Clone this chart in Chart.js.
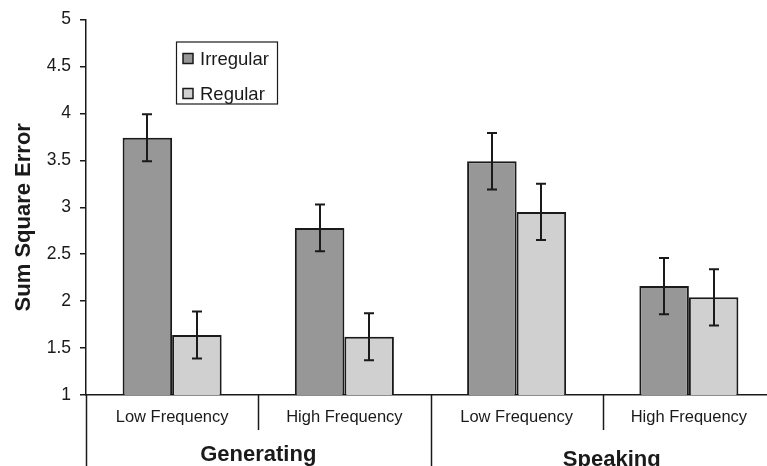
<!DOCTYPE html>
<html>
<head>
<meta charset="utf-8">
<script src="https://cdn.jsdelivr.net/npm/chart.js@4"></script>
<style>
  html, body { margin: 0; padding: 0; background: #fff; overflow: hidden; }
  #wrap { width: 790px; height: 466px; }
</style>
</head>
<body>
<div id="wrap"><canvas id="graphCanvas" width="790" height="466"></canvas></div>
<script>
var categories = ['Low Frequency', 'High Frequency', 'Low Frequency', 'High Frequency'];
var groups = ['Generating', 'Speaking'];
var seriesNames = ['Irregular', 'Regular'];
var irregular = [3.74, 2.78, 3.49, 2.16];
var regular = [1.64, 1.62, 2.95, 2.04];
var irregularErr = [0.25, 0.25, 0.30, 0.30];
var regularErr = [0.25, 0.25, 0.30, 0.30];
var yTicks = ['1', '1.5', '2', '2.5', '3', '3.5', '4', '4.5', '5'];
var yTitle = 'Sum Square Error';

var ink = '#1a1a1a';
var font = 'Liberation Sans, Arial, sans-serif';

// error bars on top of each bar
var errorBars = {
    id: 'errorBars',
    afterDatasetsDraw: function (chart) {
        var ctx = chart.ctx;
        var y = chart.scales.y;
        ctx.save();
        ctx.strokeStyle = ink;
        ctx.lineWidth = 2;
        chart.data.datasets.forEach(function (ds, di) {
            var meta = chart.getDatasetMeta(di);
            meta.data.forEach(function (bar, i) {
                var hi = y.getPixelForValue(ds.data[i] + ds.err[i]);
                var lo = y.getPixelForValue(ds.data[i] - ds.err[i]);
                var x = Math.round(bar.x);
                ctx.beginPath();
                ctx.moveTo(x, hi); ctx.lineTo(x, lo);
                ctx.moveTo(x - 5, hi); ctx.lineTo(x + 5, hi);
                ctx.moveTo(x - 5, lo); ctx.lineTo(x + 5, lo);
                ctx.stroke();
            });
        });
        ctx.restore();
    }
};

// category dividers, group labels, axis title and the boxed legend
var decorations = {
    id: 'decorations',
    afterDraw: function (chart) {
        var ctx = chart.ctx;
        var x = chart.scales.x;
        var area = chart.chartArea;
        var half = (x.getPixelForValue(1) - x.getPixelForValue(0)) / 2;
        ctx.save();
        ctx.strokeStyle = ink;
        ctx.lineWidth = 1.5;
        for (var i = 0; i <= categories.length; i++) {
            var px = Math.round(x.getPixelForValue(i) - half) + 0.5;
            var long = (i % 2 === 0);
            ctx.beginPath();
            ctx.moveTo(px, area.bottom);
            ctx.lineTo(px, long ? chart.height : area.bottom + 35);
            ctx.stroke();
        }
        ctx.fillStyle = ink;
        ctx.font = 'bold 22px ' + font;
        ctx.textAlign = 'center';
        ctx.textBaseline = 'alphabetic';
        groups.forEach(function (g, gi) {
            var cx = (x.getPixelForValue(gi * 2) + x.getPixelForValue(gi * 2 + 1)) / 2;
            ctx.fillText(g, cx + gi * 9, area.bottom + 66 + gi * 5);
        });

        // y axis title
        ctx.save();
        ctx.translate(30, (area.top + area.bottom) / 2 + 10);
        ctx.rotate(-Math.PI / 2);
        ctx.font = 'bold 22px ' + font;
        ctx.textAlign = 'center';
        ctx.fillText(yTitle, 0, 0);
        ctx.restore();

        // legend
        var lx = area.left + 90, ly = area.top + 22;
        ctx.fillStyle = '#fff';
        ctx.fillRect(lx, ly, 101, 62);
        ctx.lineWidth = 1.2;
        ctx.strokeRect(lx + 0.5, ly + 0.5, 101, 62);
        ctx.font = '18.5px ' + font;
        ctx.textAlign = 'left';
        ctx.textBaseline = 'middle';
        chart.data.datasets.forEach(function (ds, di) {
            var cy = ly + 17 + di * 35;
            ctx.fillStyle = ds.backgroundColor;
            ctx.fillRect(lx + 7, cy - 5, 10, 10);
            ctx.strokeStyle = ink;
            ctx.lineWidth = 1.5;
            ctx.strokeRect(lx + 7, cy - 5, 10, 10);
            ctx.fillStyle = ink;
            ctx.fillText(ds.label, lx + 24, cy + 1);
        });
        ctx.restore();
    }
};

var chartdata = {
    labels: categories,
    datasets: [
        {
            label: seriesNames[0],
            backgroundColor: '#979797',
            borderColor: ink,
            borderWidth: 2,
            data: irregular,
            err: irregularErr
        },
        {
            label: seriesNames[1],
            backgroundColor: '#d0d0d0',
            borderColor: ink,
            borderWidth: 2,
            data: regular,
            err: regularErr
        }
    ]
};

var barGraph = new Chart(document.getElementById('graphCanvas'), {
    type: 'bar',
    data: chartdata,
    plugins: [errorBars, decorations],
    options: {
        responsive: false,
        animation: false,
        events: [],
        layout: { padding: { top: 19, right: 15, bottom: 0, left: 0 } },
        datasets: { bar: { categoryPercentage: 0.575, barPercentage: 1 } },
        plugins: { legend: { display: false }, tooltip: { enabled: false } },
        scales: {
            x: {
                grid: { display: false, drawTicks: false },
                border: { display: true, color: ink, width: 1.5 },
                ticks: {
                    color: ink,
                    padding: 13,
                    maxRotation: 0,
                    font: { family: font, size: 16.5 }
                },
                afterFit: function (scale) { scale.height = 71; }
            },
            y: {
                min: 1,
                max: 5,
                grid: { drawOnChartArea: false, color: ink, tickLength: 6, lineWidth: 1.5 },
                border: { display: true, color: ink, width: 1.5 },
                ticks: {
                    stepSize: 0.5,
                    color: ink,
                    padding: 9,
                    font: { family: font, size: 17.5 },
                    callback: function (v) { return yTicks[Math.round((v - 1) * 2)]; }
                },
                afterFit: function (scale) { scale.width = 86; }
            }
        }
    }
});
</script>
</body>
</html>
